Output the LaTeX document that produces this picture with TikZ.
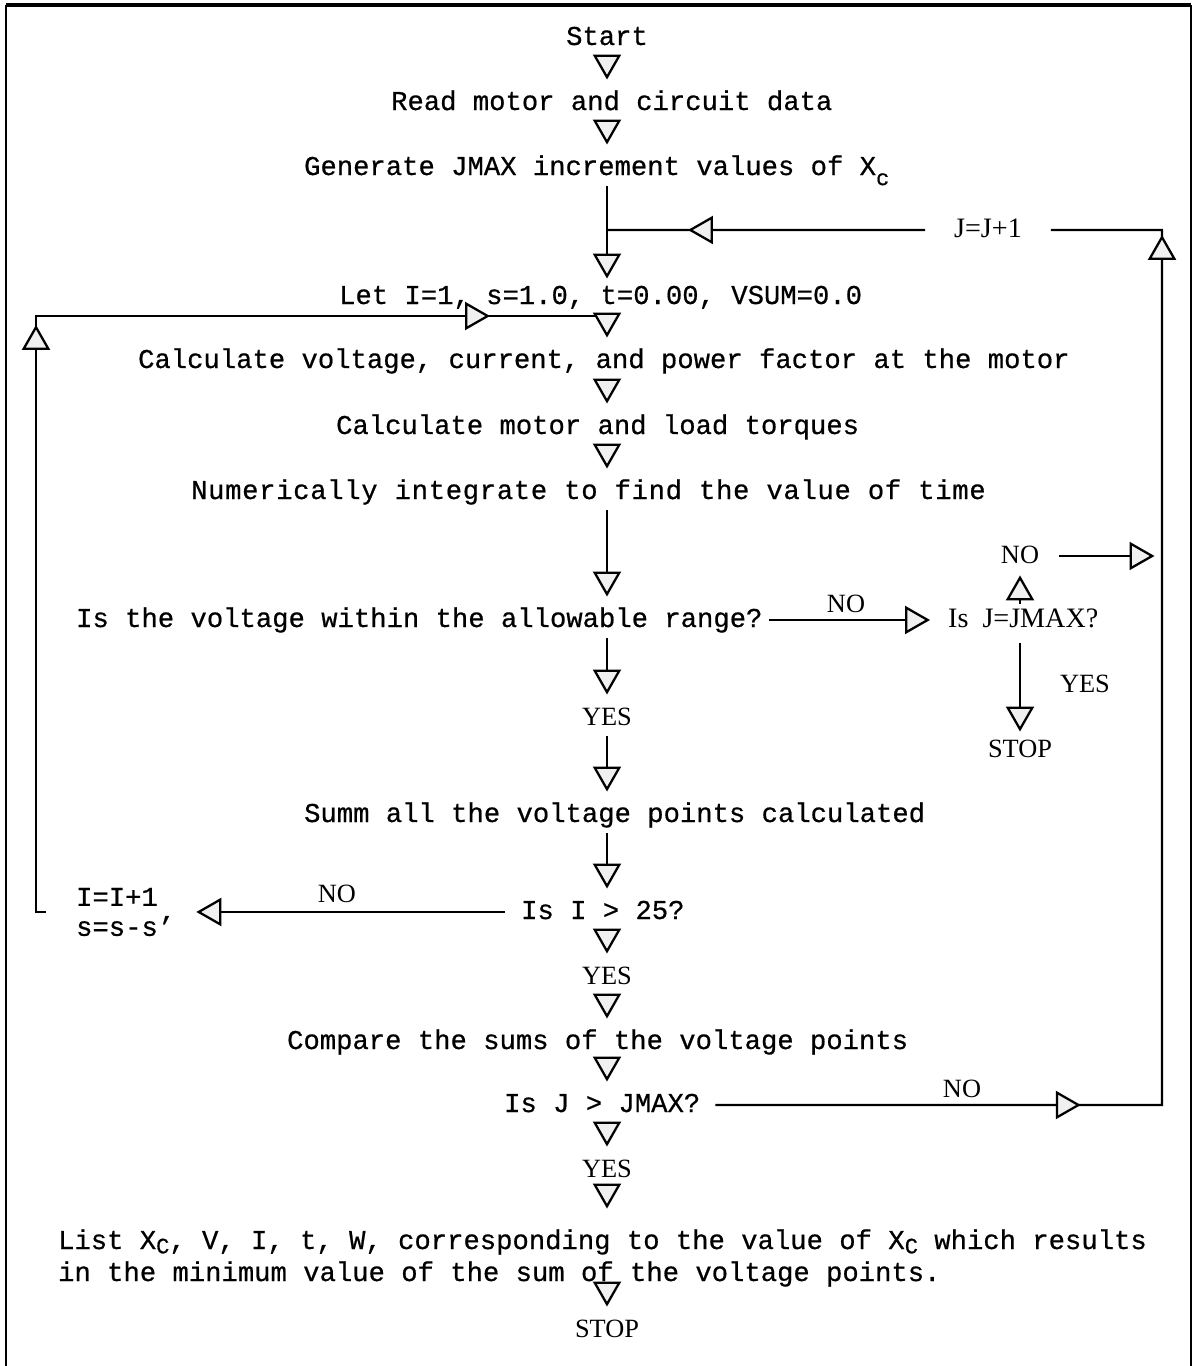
\documentclass[tikz,border=0pt]{standalone}
\usepackage{fontspec}
\setmainfont{Liberation Serif}
\setmonofont{Liberation Mono}[FakeBold=0.6]
\usetikzlibrary{arrows.meta,decorations.markings}
\newcommand\lowsub[2]{\smash{\raisebox{#1}{\fontsize{12.5}{13}\selectfont #2}}}
\tikzset{
  Tri/.tip={Triangle[length=0.5cm,width=0.56cm,fill=gray!12]},
  tt/.style={font=\fontsize{15.5}{18}\selectfont\ttfamily, inner sep=0pt, text height=11pt, text depth=3pt, anchor=base west},
  lbl/.style={font=\fontsize{15}{18}\selectfont\rmfamily, inner sep=0pt, text height=11pt, text depth=3pt, anchor=base},
  flow/.style={-{Tri}, shorten <=0.1cm, shorten >=0.2cm},
  trimark/.style={postaction={decorate, decoration={markings, mark=at position #1 with {\arrow{Tri}}}}},
}
\begin{document}
\begin{tikzpicture}[x=0.02cm, y=-0.02cm, line width=1.3pt]
\useasboundingbox (0,0) rectangle (1194,1366);
% frame
\draw[line width=2pt] (6,5) -- (1191,5);
\draw[line width=1.6pt] (6,5) -- (6,1366);
\draw[line width=0.8pt] (1191,5) -- (1191,1366);

% nodes
\node[tt, anchor=base] (start) at (607,45) {Start};
\node[tt] (read) at (390,110) {Read motor and circuit data};
\node[tt] (gen) at (303,175) {Generate JMAX increment values of X\lowsub{-0.7ex}{c}};
\node[tt] (let) at (338,304) {Let I=1, s=1.0, t=0.00, VSUM=0.0};
\node[tt] (calcv) at (137,368) {Calculate voltage, current, and power factor at the motor};
\node[tt] (calcm) at (335,434) {Calculate motor and load torques};
\node[tt] (numint) at (190,499) {\addfontfeatures{LetterSpace=2.5}Numerically integrate to find the value of time};
\node[tt] (isv) at (75,627) {Is the voltage within the allowable range?};
\node[lbl, font=\fontsize{16}{18}\selectfont\rmfamily, anchor=base west] (isJ1) at (947,627) {Is\enspace J=JMAX?};
\node[lbl] (noA) at (846,612) {NO};
\node[lbl, inner xsep=0.38cm] (noJ) at (1020,563) {NO};
\node[lbl] (stop1) at (1020,757) {STOP};
\node[lbl] (yesJ) at (1085,692) {YES};
\node[lbl] (yes1) at (607,725) {YES};
\node[tt] (summ) at (303,822) {Summ all the voltage points calculated};
\node[tt] (isI) at (520,919) {Is I > 25?};
\node[lbl] (noB) at (337,902) {NO};
\node[font=\fontsize{15.5}{17}\selectfont\ttfamily, inner sep=0pt, align=left, anchor=west] (inc) at (75,912) {I=I+1\\s=s-s’};
\node[lbl] (yes2) at (607,984) {YES};
\node[tt] (compare) at (286,1049) {Compare the sums of the voltage points};
\node[tt] (isJ2) at (503,1112) {Is J > JMAX?};
\node[lbl] (noC) at (962,1097) {NO};
\node[lbl] (yes3) at (607,1177) {YES};
\node[tt] (list1) at (57,1249) {List X\lowsub{-0.3ex}{C}, V, I, t, W, corresponding to the value of X\lowsub{-0.3ex}{C} which results};
\node[tt] (list2) at (57,1281) {in the minimum value of the sum of the voltage points.};
\node[lbl] (stop2) at (607,1337) {STOP};
\node[lbl, font=\fontsize{16}{18}\selectfont\rmfamily, inner xsep=0.56cm] (jpj) at (988,237) {J=J+1};

% coordinates
\coordinate (j) at (607,230);
\coordinate (rc1) at (1162,230);
\coordinate (rc2) at (1162,1105);
\coordinate (m1) at (607,316);
\coordinate (lt) at (36,316);
\coordinate (lb) at (36,912);

% loops (drawn first)
\draw[trimark=-2.34cm, trimark=-11.6cm] ([xshift=-0.58cm]inc.west) -- (lb) -- (lt) -- (m1);
\draw[trimark=7.31cm, trimark=26.34cm] ([xshift=0.28cm]isJ2.east) -- (rc2) -- (rc1) -- (jpj.east);
\draw[trimark=-1.62cm] (jpj.west) -- (j);

% main flow
\draw[flow] (start.south) -- (read.north -| start.south);
\draw[flow] (read.south -| start.south) -- (gen.north -| start.south);
\draw[flow, shorten >=0.1cm] (gen.south -| start.south) -- (let.north -| start.south);
\draw[flow] (let.south -| start.south) -- (calcv.north -| start.south);
\draw[flow] (calcv.south -| start.south) -- (calcm.north -| start.south);
\draw[flow] (calcm.south -| start.south) -- (numint.north -| start.south);
\draw[flow] (numint.south -| start.south) -- (isv.north -| start.south);
\draw[flow] (isv.south -| start.south) -- (yes1.north);
\draw[flow] (yes1.south) -- (summ.north -| start.south);
\draw[flow] (summ.south -| start.south) -- (isI.north -| start.south);
\draw[flow] (isI.south -| start.south) -- (yes2.north);
\draw[flow] (yes2.south) -- (compare.north -| start.south);
\draw[flow] (compare.south -| start.south) -- (isJ2.north -| start.south);
\draw[flow] (isJ2.south -| start.south) -- (yes3.north);
\draw[flow, shorten >=0.4cm] (yes3.south) -- (list1.north -| start.south);
\draw[flow] (list2.south -| start.south) -- (stop2.north);

% branches
\draw[-{Tri}, shorten <=0.1cm, shorten >=0.34cm] (isv.east) -- (isJ1.west);
\draw[-{Tri}, shorten <=0.05cm, shorten >=0.12cm] (isJ1.north -| noJ.south) -- (noJ.south);
\draw[-{Tri}, shorten <=0.2cm, shorten >=0.1cm] (isJ1.south -| stop1.north) -- (stop1.north);
\draw[-{Tri}, shorten >=0.15cm] (noJ.east) -- (noJ.east -| rc1);
\draw[-{Tri}, shorten <=0.3cm, shorten >=0.42cm] (isI.west) -- (inc.east |- isI.west);
\end{tikzpicture}
\end{document}
